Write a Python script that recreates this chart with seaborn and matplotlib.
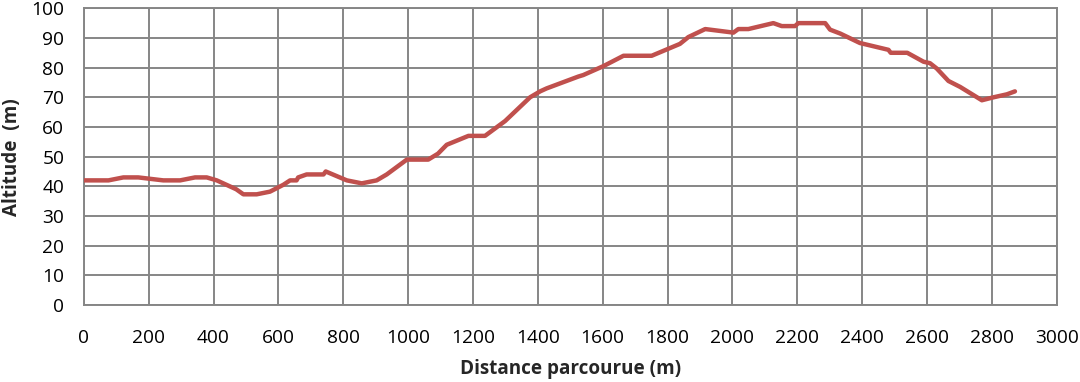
import matplotlib
matplotlib.use("Agg")
import matplotlib.pyplot as plt
import seaborn as sns
import pandas as pd

distance = [0, 76, 122, 168, 245, 297, 343, 379, 410, 470, 492, 533, 574, 615, 636, 656,
            661, 687, 739, 746, 811, 857, 903, 934, 965, 996, 1062, 1092, 1119, 1186, 1237,
            1299, 1376, 1407, 1427, 1525, 1540, 1602, 1664, 1751, 1838, 1864, 1916, 2003,
            2018, 2049, 2126, 2152, 2193, 2203, 2286, 2301, 2332, 2393, 2481, 2488, 2539,
            2589, 2609, 2630, 2666, 2702, 2769, 2805, 2846, 2871]
altitude = [42, 42, 43, 43, 42, 42, 43, 43, 42, 39, 37.3, 37.3, 38.2, 40.5, 42, 42,
            43, 44, 44, 45, 42, 41, 42, 44, 46.5, 49, 49, 51, 54, 57, 57,
            62, 70, 72, 73, 77, 77.5, 80.5, 84, 84, 88, 90.3, 93, 91.8,
            93, 93, 95, 94, 94, 95, 95, 92.8, 91.5, 88.3, 86, 85, 85,
            82, 81.5, 79.7, 75.5, 73.5, 69, 70, 71, 72]
x_ticks = list(range(0, 3001, 200))
y_ticks = list(range(0, 101, 10))

df = pd.DataFrame({"Distance": distance, "Altitude": altitude})

sns.set_style("white")
plt.rcParams["font.family"] = ["Open Sans", "DejaVu Sans"]

fig = plt.figure(figsize=(10.8, 3.82), dpi=100)
ax = fig.add_axes([0.0776, 0.2016, 0.9009, 0.7767])

sns.lineplot(data=df, x="Distance", y="Altitude", ax=ax, color="#C0504D",
             linewidth=3.2, sort=False, estimator=None, zorder=3)

ax.set_xlim(0, 3000)
ax.set_ylim(0, 100)
ax.set_xticks(x_ticks)
ax.set_yticks(y_ticks)
ax.grid(True, color="#868686", linewidth=1.4)
ax.set_axisbelow(True)
for s in ax.spines.values():
    s.set_color("#868686")
    s.set_linewidth(1.4)
ax.tick_params(axis="both", length=0, labelsize=13.8, colors="black")
ax.tick_params(axis="x", pad=17)
ax.tick_params(axis="y", pad=14)

ax.set_xlabel("Distance parcourue (m)", fontsize=13.6, fontweight="bold", labelpad=9)
ax.set_ylabel("Altitude  (m)", fontsize=13.6, fontweight="bold", labelpad=7)

fig.savefig("out.png", dpi=100)
